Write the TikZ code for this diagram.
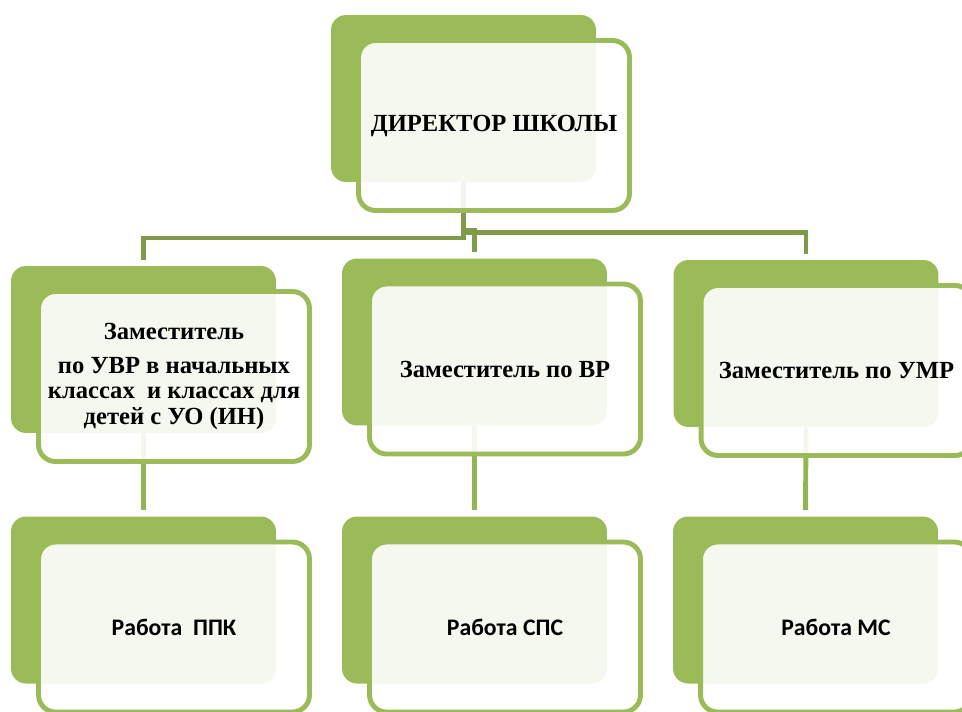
\documentclass[tikz,border=0pt]{standalone}
\usepackage{fontspec}
\setmainfont{Liberation Serif}
\newfontfamily\calibrifont{Carlito}
\definecolor{leaf}{HTML}{9BBB59}
\definecolor{stemgreen}{HTML}{7F9B4A}
\definecolor{subgreen}{HTML}{93B454}

\begin{document}
\begin{tikzpicture}[
    x=0.02cm, y=-0.02cm,
    % Define styles
    backbox/.style={
        rectangle,
        rounded corners=0.3cm,
        fill=leaf,
        inner sep=0pt,
        minimum width=5.3cm,
        minimum height=3.34cm
    },
    frontbox/.style={
        rectangle,
        rounded corners=0.34cm,
        draw=leaf,
        line width=2.8pt,
        fill=white,
        fill opacity=0.9,
        text opacity=1,
        minimum width=5.42cm,
        minimum height=3.4cm,
        align=center,
        font=\bfseries\fontsize{14}{14.5}\selectfont
    },
    workbox/.style={
        frontbox,
        font=\calibrifont\bfseries\fontsize{13.5}{15}\selectfont
    },
    toplink/.style={
        draw=stemgreen,
        line width=2.8pt,
        shorten >=3.4pt
    },
    sublink/.style={
        draw=subgreen,
        line width=2.8pt,
        shorten >=3.4pt
    }
]

% Page size (pixels of the reference)
\useasboundingbox (0,0) rectangle (962,711);
\clip (0,0) rectangle (962,711);

% Variables
\def\colAx{143.5}
\def\colBx{474.5}
\def\colCx{806}
\def\rowy{600}
\def\shiftx{30.5}
\def\shifty{27}

% Draw green back boxes
\node[backbox] (dir) at (463.5,98.5) {};
\node[backbox] (zamA) at (\colAx,349.5) {};
\node[backbox] (zamB) at (\colBx,342) {};
\node[backbox] (zamC) at (\colCx,343.5) {};
\node[backbox] (rabA) at (\colAx,\rowy) {};
\node[backbox] (rabB) at (\colBx,\rowy) {};
\node[backbox] (rabC) at (805.5,\rowy) {};

% Connectors
\coordinate (barA) at (0,238);
\coordinate (barB) at (0,230);
\coordinate (barC) at (0,232.5);
\draw[toplink] (dir.south) |- (zamA.north |- barA) -- (zamA.north);
\draw[toplink] (dir.south) |- (zamB.north |- barB) -- (zamB.north);
\draw[toplink] (dir.south) |- (zamC.north |- barC) -- (zamC.north);
\draw[sublink] (zamA.south) -- (rabA.north);
\draw[sublink] (zamB.south) -- (rabB.north);
\draw[sublink] (zamC.south) -- (rabC.north);

% Draw front boxes with text
\node[frontbox] (dirtext) at ([shift={(\shiftx,\shifty)}]dir.center) {ДИРЕКТОР ШКОЛЫ};

\node[frontbox] (zamAtext) at ([shift={(\shiftx,\shifty)}]zamA.center) {Заместитель\\[4.8pt] по УВР в начальных\\классах\ \ и классах для\\детей с УО (ИН)};
\node[frontbox] (zamBtext) at ([shift={(\shiftx,\shifty)}]zamB.center) {Заместитель по ВР};
\node[frontbox] (zamCtext) at ([shift={(\shiftx,\shifty)}]zamC.center) {Заместитель по УМР};

\node[workbox] (rabAtext) at ([shift={(\shiftx,\shifty)}]rabA.center) {Работа\ \ ППК};
\node[workbox] (rabBtext) at ([shift={(\shiftx,\shifty)}]rabB.center) {Работа СПС};
\node[workbox] (rabCtext) at ([shift={(\shiftx,\shifty)}]rabC.center) {Работа МС};

\end{tikzpicture}
\end{document}
